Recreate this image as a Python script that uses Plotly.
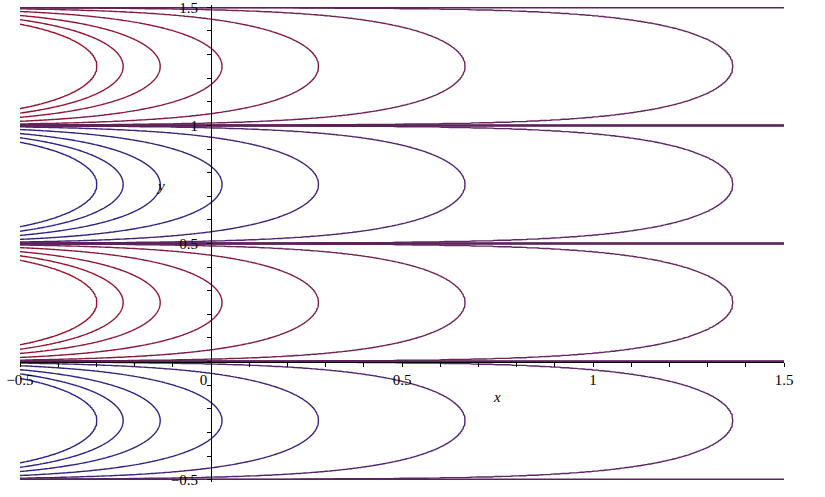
import numpy as np
import plotly.graph_objects as go

# ---- data ----
x_range = [-0.5, 1.5]
y_range = [-0.5, 1.5]
decay_rate = 4.2            # field: exp(-decay_rate*x) * sin(2*pi*y)
# positive contour levels, outer (vertex far right) -> inner (vertex far left)
pos_levels = [0.0032, 0.061, 0.306, 0.885, 1.748, 2.627, 3.495]
# colours for level index -7 .. 7 (blue negative -> red positive)
level_colors = [
    "rgb(42,36,132)", "rgb(44,36,132)", "rgb(46,36,130)", "rgb(52,36,126)",
    "rgb(68,36,118)", "rgb(84,38,110)", "rgb(94,40,104)",
    "rgb(88,32,88)",
    "rgb(102,40,96)", "rgb(112,36,86)", "rgb(126,30,72)", "rgb(138,26,58)",
    "rgb(144,24,52)", "rgb(146,22,48)", "rgb(148,20,44)",
]
zero_color = "rgb(92,34,90)"
x_ticks = [-0.5, 0, 0.5, 1, 1.5]
x_tick_text = ["\u22120.5", "0\u00a0\u00a0\u00a0\u00a0", "0.5", "1", "1.5"]
y_ticks = [-0.5, 0.5, 1, 1.5]
y_tick_text = ["\u22120.5", "0.5", "1", "1.5"]

# ---- field on a grid ----
N = 200
dy = 0.5 / N
y = y_range[0] - dy / 2 + dy * np.arange(4 * N + 2)
x = np.linspace(x_range[0], x_range[1], 501)
F = np.exp(-decay_rate * x)[None, :] * np.sin(2 * np.pi * y)[:, None]

n = len(pos_levels)
fmax = float(np.abs(F).max()) * 1.05
anchor_f = [-fmax] + [-v for v in pos_levels[::-1]] + [0.0] + pos_levels + [fmax]
anchor_i = list(range(-(n + 1), n + 2))
Z = np.round(np.interp(F, anchor_f, anchor_i), 5)

cs = [[i / (2 * n), c] for i, c in enumerate(level_colors)]

fig = go.Figure()
fig.add_trace(go.Contour(
    x=x, y=y, z=Z, autocontour=False,
    contours=dict(start=-n, end=n, size=1, coloring="lines", showlabels=False),
    colorscale=cs, showscale=False, line=dict(width=1.4, smoothing=0),
    hoverinfo="skip",
))

# zero level drawn slightly heavier (crowded near-zero contours)
xc = np.linspace(x_range[0], x_range[1], 21)
Fc = np.exp(-decay_rate * xc)[None, :] * np.sin(2 * np.pi * y)[:, None]
Zc = np.round(np.interp(Fc, anchor_f, anchor_i), 5)
fig.add_trace(go.Contour(
    x=xc, y=y, z=Zc, autocontour=False,
    contours=dict(start=0, end=0, size=1, coloring="none", showlabels=False),
    showscale=False, line=dict(width=2.4, color=zero_color, smoothing=0),
    hoverinfo="skip",
))

pad = 0.01
yr = [y_range[0] - pad, y_range[1] + pad]
font = dict(family="Liberation Serif", size=15, color="black")

fig.update_layout(
    width=825, height=497, autosize=False,
    margin=dict(l=20, r=41, t=5, b=15),
    paper_bgcolor="white", plot_bgcolor="white",
    showlegend=False, font=font,
    xaxis=dict(range=x_range, anchor="free", automargin=False,
               position=(0 - yr[0]) / (yr[1] - yr[0]),
               showgrid=False, zeroline=False, showline=True,
               linecolor="black", linewidth=1.2,
               ticks="outside", ticklen=4, tickcolor="black", tickwidth=1,
               ticklabeloverflow="allow",
               tickvals=x_ticks, ticktext=x_tick_text, tickfont=font,
               minor=dict(dtick=0.1, tick0=0, ticks="outside", ticklen=4,
                          tickcolor="black", tickwidth=1, showgrid=False)),
    yaxis=dict(range=yr, anchor="free", automargin=False,
               position=(0 - x_range[0]) / (x_range[1] - x_range[0]),
               showgrid=False, zeroline=False, showline=True,
               linecolor="black", linewidth=1.2,
               ticks="outside", ticklen=4, tickcolor="black", tickwidth=1,
               ticklabelstandoff=6, ticklabeloverflow="allow",
               tickvals=y_ticks, ticktext=y_tick_text, tickfont=font,
               minor=dict(dtick=0.1, tick0=0, ticks="outside", ticklen=4,
                          tickcolor="black", tickwidth=1, showgrid=False)),
    annotations=[
        dict(x=0.749, y=-0.15, xref="x", yref="y", text="<i>x</i>",
             showarrow=False, font=font),
        dict(x=-0.132, y=0.745, xref="x", yref="y", text="<i>y</i>",
             showarrow=False, font=font),
    ],
)

fig.write_html("out.html",
               config={"displayModeBar": False},
               post_script="document.body.style.margin='0';"
                           "document.body.style.overflow='hidden';")
